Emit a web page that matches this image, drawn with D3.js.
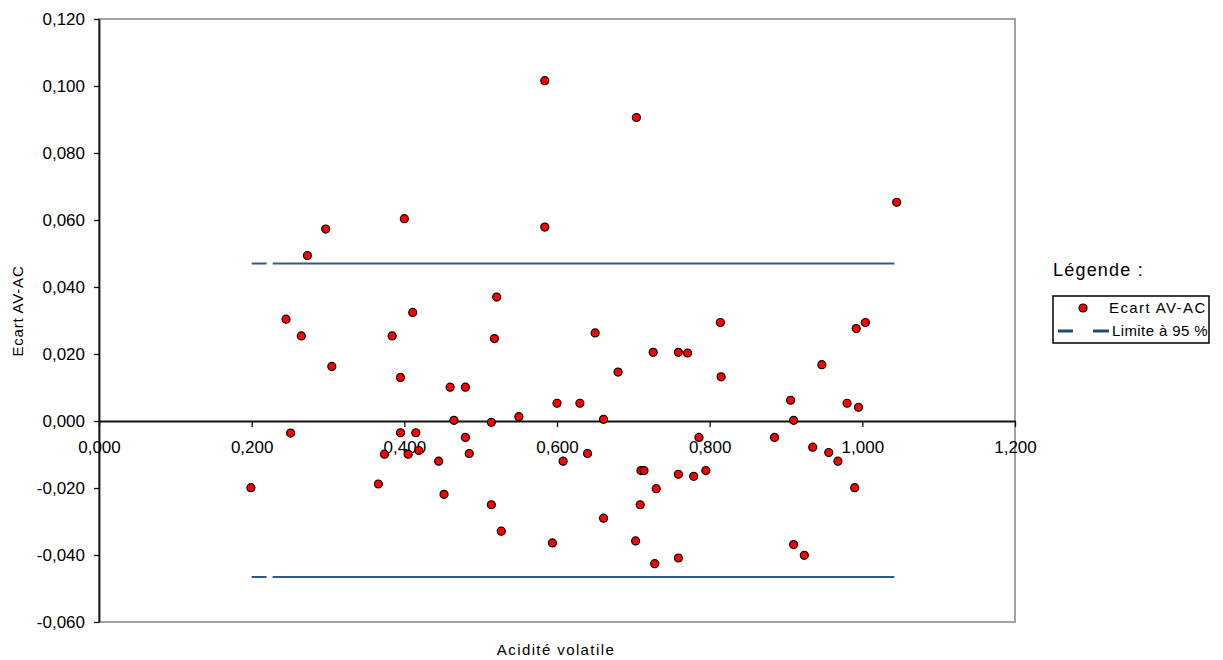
<!DOCTYPE html>
<html>
<head>
<meta charset="utf-8">
<script src="https://cdn.jsdelivr.net/npm/d3@7"></script>
<style>
body{margin:0;background:#fff;}
text{font-family:"Liberation Sans",Arial,sans-serif;fill:#000;}
</style>
</head>
<body>
<script>
//Data
var acidite = [0.199, 0.245, 0.251, 0.265, 0.273, 0.297, 0.305, 0.366, 0.374, 0.384,
	0.395, 0.395, 0.400, 0.405, 0.411, 0.415, 0.419, 0.445, 0.452, 0.460,
	0.465, 0.480, 0.480, 0.485, 0.514, 0.514, 0.518, 0.521, 0.527, 0.550,
	0.584, 0.584, 0.594, 0.600, 0.608, 0.630, 0.640, 0.650, 0.661, 0.661,
	0.680, 0.703, 0.704, 0.709, 0.710, 0.714, 0.726, 0.728, 0.730, 0.759,
	0.759, 0.759, 0.771, 0.779, 0.786, 0.795, 0.814, 0.815, 0.885, 0.906,
	0.910, 0.910, 0.924, 0.935, 0.947, 0.956, 0.968, 0.980, 0.990, 0.992,
	0.995, 1.004, 1.045];
var ecart = [-0.0199, 0.0304, -0.0036, 0.0254, 0.0494, 0.0573, 0.0163, -0.0188, -0.0099, 0.0254,
	0.0130, -0.0035, 0.0604, -0.0099, 0.0324, -0.0035, -0.0088, -0.0120, -0.0219, 0.0101,
	0.0002, 0.0101, -0.0049, -0.0097, -0.0004, -0.0250, 0.0246, 0.0370, -0.0329, 0.0013,
	0.1016, 0.0579, -0.0364, 0.0053, -0.0120, 0.0053, -0.0097, 0.0263, -0.0290, 0.0005,
	0.0146, -0.0358, 0.0906, -0.0250, -0.0148, -0.0148, 0.0205, -0.0426, -0.0202, 0.0205,
	-0.0159, -0.0409, 0.0203, -0.0165, -0.0049, -0.0148, 0.0294, 0.0132, -0.0049, 0.0062,
	-0.0369, 0.0002, -0.0401, -0.0078, 0.0168, -0.0094, -0.0120, 0.0053, -0.0199, 0.0276,
	0.0041, 0.0294, 0.0653];

var limiteX = [0.200, 1.042];
var limiteHaute = 0.0470;
var limiteBasse = -0.0466;

var xTicks = [0, 0.2, 0.4, 0.6, 0.8, 1.0, 1.2];
var yTicks = [-0.06, -0.04, -0.02, 0, 0.02, 0.04, 0.06, 0.08, 0.10, 0.12];
var legendLabels = ["Ecart AV-AC", "Limite à 95 %"];

var w = 1223;
var h = 660;
var svg = d3.select("body").append("svg")
	.attr("width", w)
	.attr("height", h);

var x = d3.scaleLinear().domain([0, 1.2]).range([99, 1015]);
var y = d3.scaleLinear().domain([-0.06, 0.12]).range([622, 19]);

function fmt(d){
	return d3.format(".3f")(d).replace(".", ",").replace("\u2212", "-");
}

//plot frame (grey)
svg.append("rect")
	.attr("x", x(0))
	.attr("y", y(0.12))
	.attr("width", x(1.2) - x(0))
	.attr("height", y(-0.06) - y(0.12))
	.attr("fill", "none")
	.attr("stroke", "#a3a3a3")
	.attr("stroke-width", 2);

//y axis
var yAxis = svg.append("g")
	.attr("transform", "translate(" + x(0) + ",0)")
	.call(d3.axisLeft(y).tickValues(yTicks).tickFormat(fmt).tickSize(5).tickPadding(9).tickSizeOuter(0));

//x axis on the zero line
var xAxis = svg.append("g")
	.attr("transform", "translate(0," + y(0) + ")")
	.call(d3.axisBottom(x).tickValues(xTicks).tickFormat(fmt).tickSize(6).tickPadding(14).tickSizeOuter(0));

[yAxis, xAxis].forEach(function(g){
	g.attr("font-family", null).attr("font-size", 17);
	g.select(".domain").attr("stroke", "#111").attr("stroke-width", 1.8);
	g.selectAll(".tick line").attr("stroke", "#111").attr("stroke-width", 1.3);
	g.selectAll(".tick text").attr("fill", "#000");
});

//axis titles
svg.append("text")
	.text("Acidité volatile")
	.attr("x", 556)
	.attr("y", 655)
	.attr("text-anchor", "middle")
	.attr("font-size", 15)
	.attr("letter-spacing", 1.4);

svg.append("text")
	.text("Ecart AV-AC")
	.attr("transform", "translate(23,311) rotate(-90)")
	.attr("text-anchor", "middle")
	.attr("font-size", 15)
	.attr("letter-spacing", 0.8);

//95% limits
var line = d3.line()
	.x(function(d){ return x(d[0]); })
	.y(function(d){ return y(d[1]); });

[limiteHaute, limiteBasse].forEach(function(v){
	svg.append("path")
		.attr("d", line(limiteX.map(function(lx){ return [lx, v]; })))
		.attr("fill", "none")
		.attr("stroke", "#30598a")
		.attr("stroke-width", 2)
		.attr("stroke-dasharray", "15,6,3000");
});

//points
svg.selectAll("circle.pt")
	.data(acidite)
	.enter()
	.append("circle")
	.attr("class", "pt")
	.attr("cx", function(d){ return x(d); })
	.attr("cy", function(d, i){ return y(ecart[i]); })
	.attr("r", 4)
	.attr("fill", "#ff0000")
	.attr("stroke", "#000")
	.attr("stroke-width", 1.2);

//legend
svg.append("text")
	.text("Légende :")
	.attr("x", 1053)
	.attr("y", 276)
	.attr("font-size", 18)
	.attr("letter-spacing", 1.2);

svg.append("rect")
	.attr("x", 1053)
	.attr("y", 296)
	.attr("width", 156)
	.attr("height", 47)
	.attr("fill", "#fff")
	.attr("stroke", "#000")
	.attr("stroke-width", 1.5);

svg.append("circle")
	.attr("cx", 1083)
	.attr("cy", 308)
	.attr("r", 4)
	.attr("fill", "#ff0000")
	.attr("stroke", "#000")
	.attr("stroke-width", 1.2);

svg.append("line")
	.attr("x1", 1058)
	.attr("x2", 1109)
	.attr("y1", 331)
	.attr("y2", 331)
	.attr("stroke", "#1f4a7e")
	.attr("stroke-width", 3)
	.attr("stroke-dasharray", "15,20,20");

svg.selectAll("text.leg")
	.data(legendLabels)
	.enter()
	.append("text")
	.attr("class", "leg")
	.text(function(d){ return d; })
	.attr("x", function(d, i){ return i == 0 ? 1109 : 1112; })
	.attr("y", function(d, i){ return 313 + i * 23; })
	.attr("font-size", 15)
	.attr("letter-spacing", function(d, i){ return i == 0 ? 1.4 : 0.4; });
</script>
</body>
</html>
